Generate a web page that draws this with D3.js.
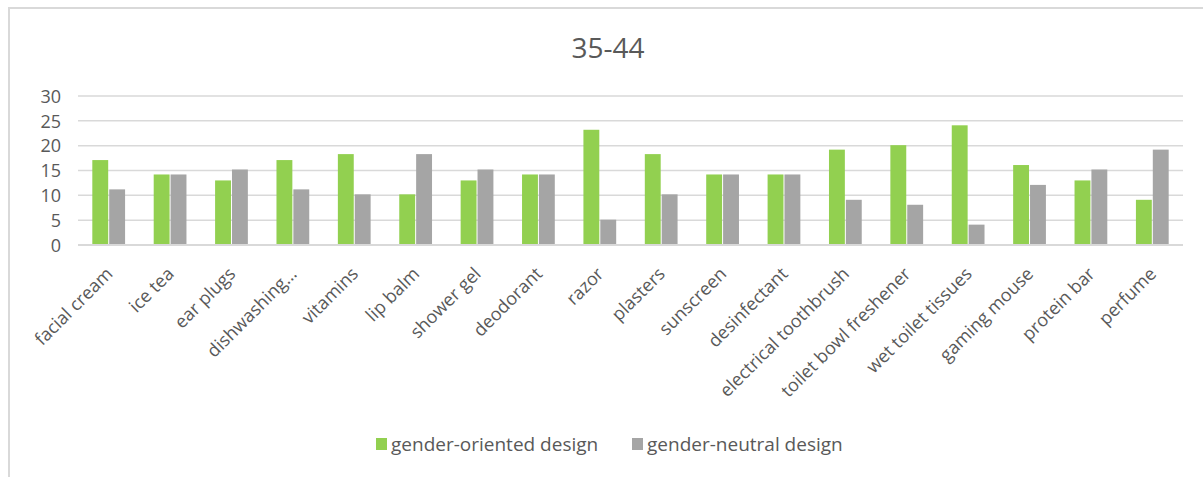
<!DOCTYPE html>
<html><head><meta charset="utf-8">
<script src="https://cdn.jsdelivr.net/npm/d3@7"></script>
<style>body{margin:0;background:#fff;}svg{display:block;font-family:"Open Sans",sans-serif;}</style>
</head><body>
<svg id="c" width="1203" height="477"></svg>
<script>
const categories = ["facial cream","ice tea","ear plugs","dishwashing…","vitamins","lip balm","shower gel","deodorant","razor","plasters","sunscreen","desinfectant","electrical toothbrush","toilet bowl freshener","wet toilet tissues","gaming mouse","protein bar","perfume"];
const genderOriented = [17.1,14.2,13,17.1,18.3,10.2,13,14.2,23.2,18.3,14.2,14.2,19.2,20.1,24.1,16.1,13,9.1];
const genderNeutral = [11.2,14.2,15.2,11.2,10.2,18.3,15.2,14.2,5.1,10.2,14.2,14.2,9.1,8.1,4.1,12.1,15.2,19.2];
const seriesNames = ["gender-oriented design","gender-neutral design"];
const yTicks = [0,5,10,15,20,25,30];
const title = "35-44";

const colors = ["#92d050","#a5a5a5"];
const svg = d3.select("#c");

// frame
svg.append("path").attr("d","M9,477 V8 H1203").attr("fill","none").attr("stroke","#d9d9d9").attr("stroke-width",2);

const x = d3.scaleBand().domain(categories).range([78,1183]).paddingInner(0.45).paddingOuter(0.225);
const x1 = d3.scaleBand().domain([0,1]).range([0,x.bandwidth()]);
const y = d3.scaleLinear().domain([0,30]).range([245,96]);

// grid
svg.append("g").selectAll("line").data(yTicks).join("line")
  .attr("x1",78).attr("x2",1183).attr("y1",d=>y(d)).attr("y2",d=>y(d))
  .attr("stroke","#d9d9d9").attr("stroke-width",1.5);

// y axis labels
const yAxis = d3.axisLeft(y).tickValues(yTicks).tickSize(0).tickPadding(0);
const ya = svg.append("g").attr("transform","translate(61,0)").call(yAxis);
ya.select(".domain").remove();
ya.selectAll("text").attr("font-size",18).attr("fill","#595959").attr("font-family","Open Sans").attr("dy","0.35em");

// bars
const series = [genderOriented, genderNeutral];
series.forEach((vals,si)=>{
  svg.append("g").selectAll("rect").data(vals).join("rect")
    .attr("x",(d,i)=>x(categories[i])+x1(si)+0.5)
    .attr("width",x1.bandwidth()-1)
    .attr("y",d=>y(d))
    .attr("height",d=>y(0)-y(d))
    .attr("fill",colors[si]);
});

// baseline
svg.append("line").attr("x1",78).attr("x2",1183).attr("y1",y(0)).attr("y2",y(0)).attr("stroke","#d9d9d9").attr("stroke-width",2);

// x labels
const xa = svg.append("g").attr("transform",`translate(0,${y(0)})`).call(d3.axisBottom(x).tickSize(0).tickPadding(0));
xa.select(".domain").remove();
xa.selectAll("text")
  .attr("font-size",18).attr("fill","#595959").attr("font-family","Open Sans")
  .attr("text-anchor","end")
  .attr("dy",null).attr("y",0)
  .attr("transform","translate(5,30) rotate(-45)");

// title
svg.append("text").attr("x",608).attr("y",58).attr("text-anchor","middle")
  .attr("font-size",28).attr("fill","#595959").text(title);

// legend
const legX = [376,632];
seriesNames.forEach((n,i)=>{
  svg.append("rect").attr("x",legX[i]).attr("y",438).attr("width",11).attr("height",12).attr("fill",colors[i]);
  svg.append("text").attr("x",legX[i]+15).attr("y",451).attr("font-size",19).attr("fill","#595959").text(n);
});
</script>
</body></html>
